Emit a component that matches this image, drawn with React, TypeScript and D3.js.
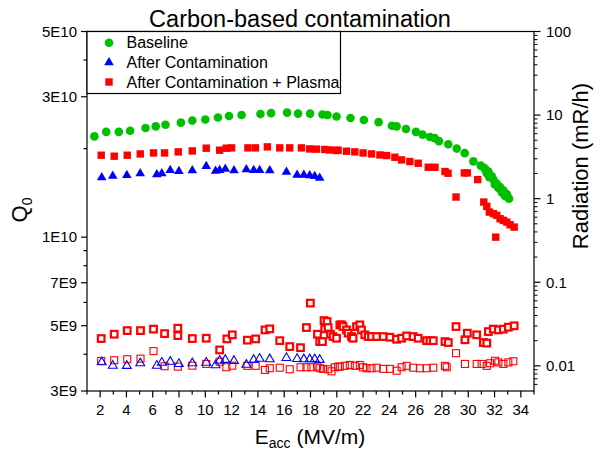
import React from 'react';
import * as d3 from 'd3';

// ---- Q0 data (left axis) ----
const baselineE = [1.56, 2.46, 3.42, 4.28, 5.45, 6.23, 6.97, 8.14, 9.01, 10.0, 10.96, 11.8, 12.76, 14.19, 15.0, 16.22, 17.05, 17.97, 18.91, 19.29, 19.98, 21.04, 22.06, 23.18, 24.19, 24.55, 25.26, 26.02, 26.53, 27.09, 27.44, 27.77, 28.48, 29.12, 29.73, 30.39, 30.95, 31.2, 31.3, 31.41, 31.53, 31.6, 31.79, 31.91, 32.02, 32.17, 32.29, 32.42, 32.55, 32.67, 32.8, 32.93, 33.05, 33.1];
const baselineQ = [2.2e10, 2.28e10, 2.28e10, 2.3e10, 2.35e10, 2.38e10, 2.41e10, 2.45e10, 2.49e10, 2.51e10, 2.55e10, 2.58e10, 2.6e10, 2.62e10, 2.64e10, 2.65e10, 2.63e10, 2.63e10, 2.61e10, 2.6e10, 2.57e10, 2.54e10, 2.5e10, 2.46e10, 2.39e10, 2.38e10, 2.33e10, 2.28e10, 2.23e10, 2.19e10, 2.17e10, 2.12e10, 2.07e10, 2.0e10, 1.93e10, 1.81e10, 1.75e10, 1.72e10, 1.7e10, 1.65e10, 1.67e10, 1.6e10, 1.61e10, 1.57e10, 1.51e10, 1.52e10, 1.47e10, 1.48e10, 1.42e10, 1.44e10, 1.38e10, 1.4e10, 1.36e10, 1.35e10];

const contamE = [2.12, 2.96, 4.03, 5.05, 6.31, 6.69, 7.33, 7.99, 9.01, 10.07, 10.78, 11.09, 11.52, 12.18, 13.12, 13.68, 14.13, 14.9, 16.17, 16.98, 17.49, 17.94, 18.32, 18.7];
const contamQ = [1.594e10, 1.614e10, 1.623e10, 1.645e10, 1.632e10, 1.645e10, 1.688e10, 1.675e10, 1.684e10, 1.742e10, 1.679e10, 1.688e10, 1.705e10, 1.684e10, 1.697e10, 1.688e10, 1.688e10, 1.684e10, 1.666e10, 1.627e10, 1.627e10, 1.619e10, 1.61e10, 1.589e10];

const plasmaE = [2.08, 3.07, 4.06, 5.05, 6.06, 6.9, 7.94, 9.01, 10.07, 11.09, 11.6, 12.0, 13.24, 13.81, 14.72, 15.66, 16.42, 17.31, 17.94, 18.45, 19.09, 19.47, 19.98, 20.1, 20.74, 21.37, 22.0, 22.64, 23.28, 23.79, 24.42, 24.93, 25.56, 26.19, 26.96, 27.47, 28.23, 28.46, 29.07, 29.7, 29.93, 30.72, 31.18, 31.41, 31.6, 31.91, 32.17, 32.42, 32.67, 32.93, 33.18, 33.49, 32.09];
const plasmaQ = [1.899e10, 1.884e10, 1.899e10, 1.918e10, 1.933e10, 1.933e10, 1.949e10, 1.964e10, 2.006e10, 1.975e10, 2.006e10, 2.011e10, 2.011e10, 2.011e10, 2.027e10, 2.011e10, 2.011e10, 2.011e10, 1.995e10, 1.991e10, 1.986e10, 1.979e10, 1.97e10, 1.975e10, 1.959e10, 1.949e10, 1.933e10, 1.918e10, 1.903e10, 1.894e10, 1.869e10, 1.83e10, 1.807e10, 1.783e10, 1.728e10, 1.728e10, 1.671e10, 1.649e10, 1.369e10, 1.653e10, 1.653e10, 1.569e10, 1.316e10, 1.273e10, 1.217e10, 1.202e10, 1.186e10, 1.155e10, 1.14e10, 1.125e10, 1.102e10, 1.082e10, 1.0e10];

// ---- Radiation data (right axis, mR/h) ----
const radPlasmaAE = [2.08, 3.07, 4.06, 5.07, 6.06, 6.9, 7.91, 7.91, 9.01, 10.07, 11.09, 11.64, 12.05, 13.2, 13.83, 14.54, 14.9, 15.66, 16.42, 17.24, 17.69, 17.99, 18.53, 18.7, 18.91, 19.03, 19.26, 19.08, 19.34, 19.52, 19.72, 19.98, 20.23, 20.36, 20.48, 20.74, 20.86, 21.12, 21.24, 21.5, 21.75, 21.88, 22.13, 22.39, 22.64, 23.03, 23.53, 24.04, 24.55, 24.93, 25.31, 25.81, 26.19, 26.83, 27.09, 27.34, 28.23, 28.48, 29.07, 29.75, 29.93, 30.64, 31.15, 31.41, 31.53, 31.91, 32.29, 32.67, 33.05, 33.49];
const radPlasmaAR = [0.0212, 0.0239, 0.0264, 0.0264, 0.0275, 0.0243, 0.0282, 0.023, 0.0212, 0.0214, 0.0155, 0.021, 0.0235, 0.0203, 0.021, 0.0269, 0.0277, 0.02, 0.017, 0.0165, 0.0287, 0.0563, 0.0239, 0.0195, 0.0195, 0.0348, 0.0339, 0.0277, 0.0287, 0.0239, 0.0224, 0.0214, 0.0309, 0.0309, 0.0295, 0.0269, 0.0246, 0.0224, 0.0214, 0.0295, 0.0309, 0.0269, 0.0235, 0.0224, 0.0224, 0.0224, 0.0224, 0.022, 0.0208, 0.0214, 0.0228, 0.0224, 0.0214, 0.02, 0.02, 0.02, 0.0195, 0.019, 0.0295, 0.0205, 0.0246, 0.0235, 0.019, 0.0187, 0.0257, 0.0275, 0.0269, 0.0275, 0.029, 0.0301];

const radPlasmaBE = [2.08, 3.07, 4.06, 5.07, 6.06, 6.9, 7.91, 9.01, 10.07, 11.09, 11.6, 12.05, 13.2, 13.83, 14.54, 14.9, 15.66, 16.42, 17.24, 17.69, 18.07, 18.5, 18.7, 18.95, 19.34, 19.6, 19.85, 20.1, 20.23, 20.61, 20.99, 21.37, 21.75, 22.0, 22.26, 22.64, 23.03, 23.53, 24.04, 24.55, 24.93, 25.31, 25.81, 26.32, 26.83, 27.34, 28.23, 28.36, 29.07, 29.75, 30.64, 31.02, 31.41, 31.66, 32.04, 32.29, 32.67, 33.05, 33.43];
const radPlasmaBR = [0.01145, 0.01167, 0.012, 0.0122, 0.015, 0.00989, 0.00978, 0.01005, 0.01054, 0.0112, 0.00962, 0.01005, 0.01, 0.01, 0.00893, 0.00936, 0.0095, 0.0091, 0.00962, 0.00962, 0.00962, 0.00978, 0.00936, 0.0092, 0.0091, 0.0086, 0.00962, 0.00978, 0.00978, 0.01, 0.01025, 0.01, 0.01025, 0.00962, 0.00936, 0.00936, 0.0095, 0.0092, 0.0092, 0.00875, 0.00962, 0.01, 0.0095, 0.00936, 0.00936, 0.0095, 0.01, 0.00962, 0.01416, 0.01054, 0.01054, 0.01054, 0.01, 0.01074, 0.0115, 0.011, 0.01054, 0.011, 0.01135];

const radContamE = [2.12, 2.96, 4.03, 5.05, 6.31, 6.69, 7.33, 7.99, 9.01, 10.07, 10.78, 11.09, 11.52, 12.18, 13.12, 13.68, 14.13, 14.9, 16.17, 16.98, 17.49, 17.94, 18.32, 18.7];
const radContamR = [0.01104, 0.01005, 0.01, 0.01074, 0.01005, 0.01092, 0.0112, 0.01054, 0.01074, 0.01092, 0.0102, 0.01153, 0.0118, 0.01148, 0.0103, 0.0118, 0.0122, 0.012, 0.01245, 0.0121, 0.012, 0.012, 0.012, 0.0118];

// ---- ticks ----
const xMajor = [2, 4, 6, 8, 10, 12, 14, 16, 18, 20, 22, 24, 26, 28, 30, 32, 34];
const xMinor = [1, 3, 5, 7, 9, 11, 13, 15, 17, 19, 21, 23, 25, 27, 29, 31, 33, 35];
const qMajor = [5e10, 3e10, 1e10, 7e9, 5e9, 3e9];
const qMajorLabels = ['5E10', '3E10', '1E10', '7E9', '5E9', '3E9'];
const qMinor = [4e10, 2e10, 9e9, 8e9, 6e9, 4e9];
const rMajor = [100, 10, 1, 0.1, 0.01];
const rMajorLabels = ['100', '10', '1', '0.1', '0.01'];
const rMinor = [0.006, 0.007, 0.008, 0.009, 0.02, 0.03, 0.04, 0.05, 0.06, 0.07, 0.08, 0.09, 0.2, 0.3, 0.4, 0.5, 0.6, 0.7, 0.8, 0.9, 2, 3, 4, 5, 6, 7, 8, 9, 20, 30, 40, 50, 60, 70, 80, 90];

const legendLabels = ['Baseline', 'After Contamination', 'After Contamination + Plasma'];

const GREEN = '#00c000';
const BLUE = '#0000ff';
const RED = '#ff0000';
const FONT = "'Liberation Sans', Arial, sans-serif";

const L = 87, R = 534, T = 31.5, B = 391;

export default function App() {
  const x = d3.scaleLinear().domain([1, 35]).range([L, R]);
  const yQ = d3.scaleLog().domain([3e9, 5e10]).range([B, T]);
  const yR = d3.scaleLog().domain([0.005, 100]).range([B, T]);
  const tri = d3.symbol().type(d3.symbolTriangle).size(40)() as string;
  const triOpen = d3.symbol().type(d3.symbolTriangle).size(34)() as string;

  return (
    <svg width={604} height={451} style={{ position: 'absolute', left: 0, top: 0, background: '#fff' }} fontFamily={FONT}>
      <rect x={0} y={0} width={604} height={451} fill="#fff" />
      {/* title */}
      <text x={300} y={27} fontSize={23.5} textAnchor="middle">Carbon-based contamination</text>

      {/* radiation data */}
      {radPlasmaBE.map((e, i) => (
        <rect key={'rb' + i} x={x(e) - 3.5} y={yR(radPlasmaBR[i]) - 3.5} width={7} height={7} fill="none" stroke={RED} strokeWidth={1.1} />
      ))}
      {radContamE.map((e, i) => (
        <path key={'rc' + i} d={triOpen} transform={`translate(${x(e)},${yR(radContamR[i])})`} fill="none" stroke={BLUE} strokeWidth={1.1} />
      ))}
      {radPlasmaAE.map((e, i) => (
        <rect key={'ra' + i} x={x(e) - 3.3} y={yR(radPlasmaAR[i]) - 3.3} width={6.6} height={6.6} fill="#fff" stroke={RED} strokeWidth={2.2} />
      ))}

      {/* Q0 data */}
      {contamE.map((e, i) => (
        <path key={'c' + i} d={tri} transform={`translate(${x(e)},${yQ(contamQ[i])})`} fill={BLUE} />
      ))}
      {plasmaE.map((e, i) => (
        <rect key={'p' + i} x={x(e) - 3.7} y={yQ(plasmaQ[i]) - 3.7} width={7.4} height={7.4} fill={RED} />
      ))}
      {baselineE.map((e, i) => (
        <circle key={'b' + i} cx={x(e)} cy={yQ(baselineQ[i])} r={4.3} fill={GREEN} />
      ))}

      {/* frame */}
      <rect x={L} y={T} width={R - L} height={B - T} fill="none" stroke="#000" strokeWidth={1.2} />

      {/* bottom axis */}
      {xMajor.map((v) => (
        <g key={'xm' + v}>
          <line x1={x(v)} x2={x(v)} y1={B} y2={B + 6.5} stroke="#000" strokeWidth={1.2} />
          <text x={x(v)} y={415} fontSize={15} textAnchor="middle">{v}</text>
        </g>
      ))}
      {xMinor.map((v) => (
        <line key={'xn' + v} x1={x(v)} x2={x(v)} y1={B} y2={B + 3.5} stroke="#000" strokeWidth={1.2} />
      ))}

      {/* left axis */}
      {qMajor.map((v, i) => (
        <g key={'qm' + v}>
          <line x1={L - 6} x2={L} y1={yQ(v)} y2={yQ(v)} stroke="#000" strokeWidth={1.2} />
          <text x={77} y={yQ(v) + 5.3} fontSize={15} textAnchor="end">{qMajorLabels[i]}</text>
        </g>
      ))}
      {qMinor.map((v) => (
        <line key={'qn' + v} x1={L - 3.5} x2={L} y1={yQ(v)} y2={yQ(v)} stroke="#000" strokeWidth={1.2} />
      ))}

      {/* right axis */}
      {rMajor.map((v, i) => (
        <g key={'rm' + v}>
          <line x1={R} x2={R + 6.5} y1={yR(v)} y2={yR(v)} stroke="#000" strokeWidth={1.2} />
          <text x={546} y={yR(v) + 5.3} fontSize={15} textAnchor="start">{rMajorLabels[i]}</text>
        </g>
      ))}
      {rMinor.map((v) => (
        <line key={'rn' + v} x1={R} x2={R + 3.5} y1={yR(v)} y2={yR(v)} stroke="#000" strokeWidth={1} />
      ))}

      {/* axis titles */}
      <text transform="translate(27,210) rotate(-90)" fontSize={22} textAnchor="middle">
        Q<tspan fontSize={14} dy={5}>0</tspan>
      </text>
      <text x={310} y={444} fontSize={21} textAnchor="middle">
        E<tspan fontSize={14} dy={4}>acc</tspan><tspan dy={-4}> (MV/m)</tspan>
      </text>
      <text transform="translate(588,166) rotate(-90)" fontSize={22} textAnchor="middle">Radiation (mR/h)</text>

      {/* legend */}
      <rect x={L} y={T} width={253.5} height={62} fill="#fff" stroke="#000" strokeWidth={1.2} />
      <circle cx={109} cy={42.7} r={4.3} fill={GREEN} />
      <path d={tri} transform="translate(109,62.5)" fill={BLUE} />
      <rect x={109 - 3.7} y={82 - 3.7} width={7.4} height={7.4} fill={RED} />
      {legendLabels.map((t, i) => (
        <text key={t} x={126.5} y={[42.7, 62.5, 82][i] + 5.6} fontSize={16}>{t}</text>
      ))}
    </svg>
  );
}
